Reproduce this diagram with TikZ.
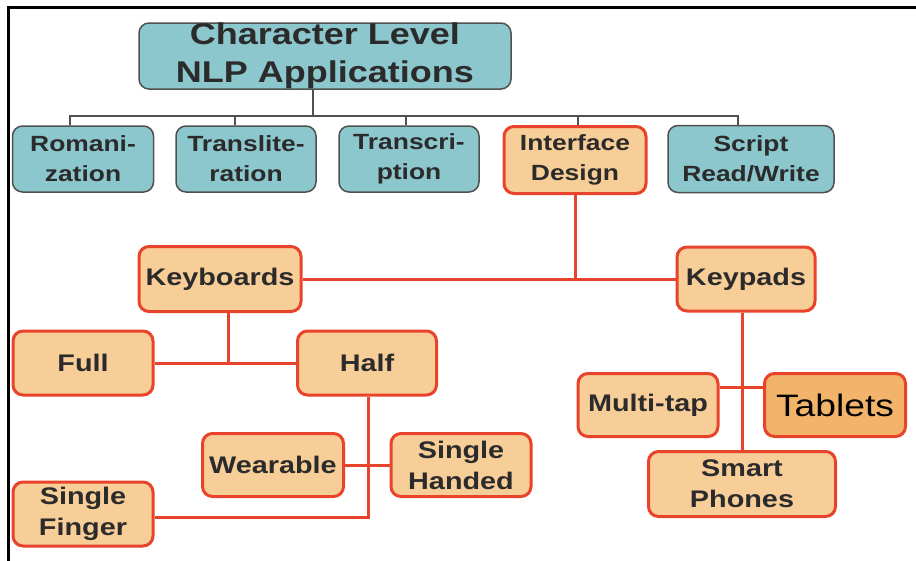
\documentclass[tikz,border=0pt]{standalone}
\usepackage{fontspec}
\setmainfont{Liberation Sans}[FakeStretch=1.2]
\definecolor{tealfill}{HTML}{8CC7CD}
\definecolor{tealline}{HTML}{505050}
\definecolor{peach}{HTML}{F7CD98}
\definecolor{peachdark}{HTML}{F1B46A}
\definecolor{redline}{HTML}{E8442C}
\definecolor{ink}{HTML}{2B2B2B}
\tikzset{
  box/.style={rounded corners=10pt, inner sep=0pt, align=center, text=ink,
    font=\bfseries\fontsize{24}{31}\selectfont},
  tealbox/.style={box, fill=tealfill, draw=tealline, line width=1.5pt,
    font=\bfseries\fontsize{22}{30}\selectfont},
  peachbox/.style={box, fill=peach, draw=redline, line width=3pt},
  gconn/.style={draw=tealline, line width=2pt},
  rconn/.style={draw=redline, line width=3pt},
}
\begin{document}
\begin{tikzpicture}[x=1pt, y=-1pt]
\useasboundingbox (0,0) rectangle (916,560);
% outer frame (top and left edges)
\draw[line width=3pt, line cap=rect] (916,7) -- (8,7) -- (8,560);

% root
\node[tealbox, minimum width=372, minimum height=66,
  font=\bfseries\fontsize{30}{38}\selectfont] (root) at (325,56)
  {Character Level\\NLP Applications};

% first level
\node[tealbox, minimum width=141, minimum height=66] (rom) at (83,159) {Romani-\\zation};
\node[tealbox, minimum width=140, minimum height=66] (tlit) at (246,159) {Translite-\\ration};
\node[tealbox, minimum width=140, minimum height=66] (tscr) at (409,159) {Transcri-\\ption};
\node[peachbox, minimum width=142, minimum height=67,
  font=\bfseries\fontsize{22}{30}\selectfont] (iface) at (575,160) {Interface\\Design};
\node[tealbox, minimum width=166, minimum height=67] (script) at (751,159) {Script\\Read/Write};

% interface design subtree
\node[peachbox, minimum width=162, minimum height=65] (kb) at (220,279) {Keyboards};
\node[peachbox, minimum width=138, minimum height=64] (kp) at (746,279) {Keypads};
\node[peachbox, minimum width=140, minimum height=64] (full) at (83,363) {Full};
\node[peachbox, minimum width=139, minimum height=64] (half) at (367,363) {Half};
\node[peachbox, minimum width=141, minimum height=63] (wear) at (273,465) {Wearable};
\node[peachbox, minimum width=140, minimum height=63] (sh) at (461,465) {Single\\Handed};
\node[peachbox, minimum width=140, minimum height=64] (sf) at (83,514) {Single\\Finger};
\node[peachbox, minimum width=140, minimum height=63] (mt) at (648,405) {Multi-tap};
\node[peachbox, minimum width=141, minimum height=63, fill=peachdark, text=black,
  font=\mdseries\fontsize{31}{36}\selectfont] (tab) at (835,405) {Tablets};
\node[peachbox, minimum width=187, minimum height=65] (sp) at (742,484) {Smart\\Phones};

% grey tree connectors
\coordinate (busroot) at (313,116);
\coordinate (bus1) at (70,116);
\coordinate (bus2) at (235,116);
\coordinate (bus3) at (406,116);
\coordinate (bus4) at (578,116);
\coordinate (bus5) at (738,116);
\draw[gconn] (busroot |- root.south) -- (busroot);
\draw[gconn] (bus1 |- rom.north) -- (bus1) -- (bus5) -- (bus5 |- script.north);
\draw[gconn] (bus2) -- (bus2 |- tlit.north);
\draw[gconn] (bus3) -- (bus3 |- tscr.north);
\draw[gconn] (bus4) -- (bus4 |- iface.north);

% red tree connectors
\draw[rconn] (iface.south) -- (iface.south |- kp.west);
\draw[rconn] (kb.east) -- (kp.west);
\coordinate (kbj) at (228,363);
\draw[rconn] (kbj |- kb.south) -- (kbj);
\draw[rconn] (full.east) -- (half.west);
\coordinate (halfj) at (368,517);
\draw[rconn] (halfj |- half.south) -- (halfj) -- ([yshift=-3pt]sf.east);
\draw[rconn] (wear.east) -- (sh.west);
\coordinate (kpj) at (742,387);
\draw[rconn] (kpj |- kp.south) -- (kpj |- sp.north);
\draw[rconn] (mt.east |- kpj) -- (tab.west |- kpj);
\end{tikzpicture}
\end{document}
